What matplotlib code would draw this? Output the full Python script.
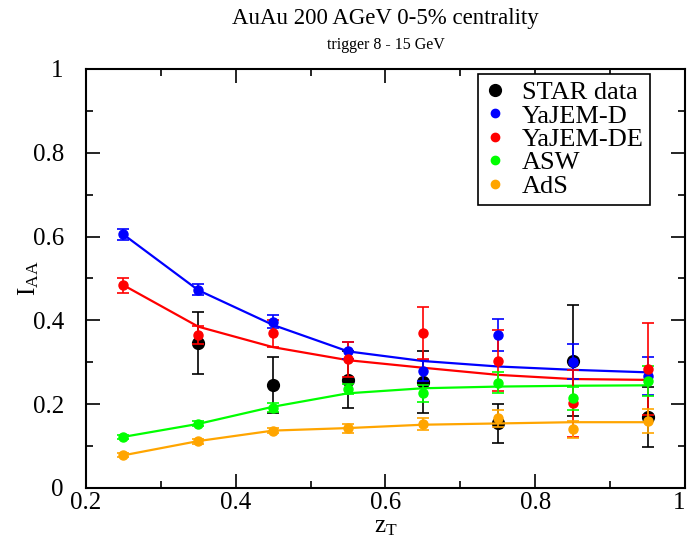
import numpy as np
import matplotlib.pyplot as plt
from matplotlib.lines import Line2D

plt.rcParams['font.family'] = ['Liberation Serif', 'DejaVu Serif']
plt.rcParams['mathtext.fontset'] = 'custom'
plt.rcParams['mathtext.rm'] = 'Liberation Serif'
plt.rcParams['mathtext.it'] = 'Liberation Serif:italic'

# z_T bins
zt = [0.25, 0.35, 0.45, 0.55, 0.65, 0.75, 0.85, 0.95]
zt_star = [0.35, 0.45, 0.55, 0.65, 0.75, 0.85, 0.95]

# STAR data
star = [0.345, 0.246, 0.258, 0.252, 0.154, 0.304, 0.170]
star_err = [0.074, 0.066, 0.068, 0.074, 0.046, 0.132, 0.071]

# model points with MC errors
yd = [0.605, 0.473, 0.397, 0.328, 0.280, 0.365, 0.301, 0.267]
yd_err = [0.012, 0.0135, 0.016, 0.02, 0.025, 0.038, 0.042, 0.046]
yde = [0.484, 0.365, 0.369, 0.307, 0.371, 0.304, 0.202, 0.283]
yde_err = [0.018, 0.021, 0.032, 0.042, 0.062, 0.072, 0.08, 0.11]
asw = [0.122, 0.153, 0.192, 0.236, 0.226, 0.251, 0.214, 0.256]
asw_err = [0.005, 0.006, 0.011, 0.012, 0.02, 0.025, 0.027, 0.036]
ads = [0.078, 0.112, 0.137, 0.142, 0.153, 0.166, 0.140, 0.160]
ads_err = [0.005, 0.006, 0.006, 0.01, 0.015, 0.02, 0.02, 0.029]

# model curves
yd_line = [0.605, 0.472, 0.389, 0.326, 0.303, 0.290, 0.282, 0.276]
yde_line = [0.484, 0.385, 0.336, 0.305, 0.287, 0.270, 0.260, 0.258]
asw_line = [0.122, 0.153, 0.194, 0.226, 0.238, 0.242, 0.244, 0.245]
ads_line = [0.078, 0.112, 0.137, 0.143, 0.151, 0.154, 0.157, 0.157]

fig = plt.figure(figsize=(6.89, 5.41), dpi=100)
ax = fig.add_axes([0.1248, 0.098, 0.8694, 0.7745])

ax.errorbar(zt_star, star, yerr=star_err, fmt='o', color='black', ms=8.5,
            capsize=4.5, elinewidth=1.2, capthick=1.2, zorder=2)

models = [
    (yd, yd_err, yd_line, 'blue'),
    (yde, yde_err, yde_line, 'red'),
    (asw, asw_err, asw_line, '#00ff00'),
    (ads, ads_err, ads_line, 'orange'),
]
for pts, err, line, col in models:
    ax.plot(zt, line, '-', color=col, lw=1.6, zorder=3)
    ax.errorbar(zt, pts, yerr=err, fmt='o', color=col, ms=6.5,
                capsize=4.5, elinewidth=1.2, capthick=1.2, zorder=4)

ax.set_xlim(0.2, 1.0)
ax.set_ylim(0, 1)
ax.set_xticks([0.2, 0.4, 0.6, 0.8, 1.0])
ax.set_xticklabels(['0.2', '0.4', '0.6', '0.8', '1'])
ax.set_yticks([0, 0.2, 0.4, 0.6, 0.8, 1.0])
ax.set_yticklabels(['0', '0.2', '0.4', '0.6', '0.8', '1'])
ax.set_xticks(np.arange(0.3, 1.0, 0.2), minor=True)
ax.set_yticks(np.arange(0.1, 1.0, 0.2), minor=True)
ax.tick_params(which='both', direction='in', top=True, right=True,
               labelsize=18, width=1.2)
ax.tick_params(which='major', length=10)
ax.tick_params(which='minor', length=5)
ax.tick_params(axis='x', which='major', pad=3)
ax.tick_params(axis='y', which='major', pad=16)
ax.get_xticklabels()[-1].set_horizontalalignment('right')
for sp in ax.spines.values():
    sp.set_linewidth(1.5)

ax.set_xlabel(r'$\mathrm{z_T}$', fontsize=18, labelpad=1)
ax.set_ylabel(r'$\mathrm{I_{AA}}$', fontsize=18, labelpad=-6)

fig.text(0.5 * (0.1248 + 0.9942), 0.965, 'AuAu 200 AGeV 0-5% centrality',
         ha='center', va='center', fontsize=16.5)
fig.text(0.5 * (0.1248 + 0.9942), 0.916, 'trigger 8 - 15 GeV',
         ha='center', va='center', fontsize=11.5)

handles = [
    Line2D([], [], ls='', marker='o', color='black', ms=8.5),
    Line2D([], [], ls='', marker='o', color='blue', ms=6),
    Line2D([], [], ls='', marker='o', color='red', ms=6),
    Line2D([], [], ls='', marker='o', color='#00ff00', ms=6),
    Line2D([], [], ls='', marker='o', color='orange', ms=6),
]
labels = ['STAR data', 'YaJEM-D', 'YaJEM-DE', 'ASW', 'AdS']
leg = ax.legend(handles, labels, loc='upper right', bbox_to_anchor=(0.942, 0.988),
                borderaxespad=0, fontsize=19, fancybox=False, framealpha=1,
                edgecolor='black', handlelength=0.8, handletextpad=0.6,
                labelspacing=0.0, borderpad=0.25)
leg.get_frame().set_linewidth(1.2)

fig.savefig('out.png', dpi=100)
